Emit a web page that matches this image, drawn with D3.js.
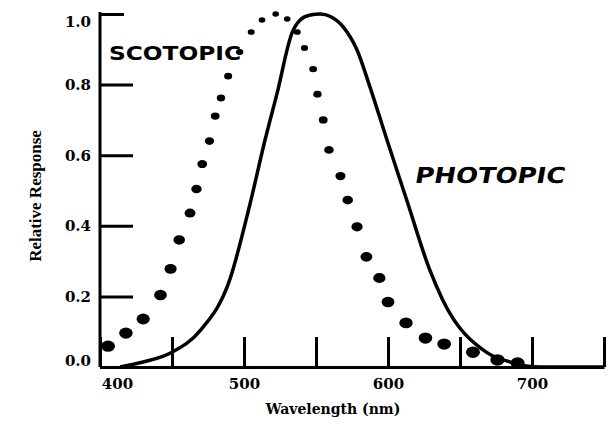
<!DOCTYPE html>
<html>
<head>
<meta charset="utf-8">
<script src="https://cdn.jsdelivr.net/npm/d3@7"></script>
<style>
body { margin: 0; background: #fff; }
.axis path, .axis line { stroke: #000; stroke-width: 3; }
.axis text { font-family: "DejaVu Serif", serif; font-weight: bold; font-size: 15px; fill: #000; }
.title { font-weight: bold; fill: #000; }
.hand { font-family: "DejaVu Sans", sans-serif; font-weight: bold; fill: #000; }
</style>
</head>
<body>
<div id="chart"></div>
<script>
// values
let photopicNm  = [414, 430, 450, 470, 490, 504, 514.6, 523, 533.3, 539, 546, 553, 560, 569, 578.5, 587.5, 599.3, 613, 629, 638, 669, 685, 705.5, 750];
let photopicVal = [0.0, 0.014, 0.042, 0.105, 0.246, 0.459, 0.643, 0.776, 0.946, 0.983, 0.997, 1.0, 0.993, 0.963, 0.898, 0.793, 0.643, 0.473, 0.275, 0.19, 0.04, 0.014, 0.0, 0.0];

let scotopicNm  = [405.6, 418, 430, 442, 449, 455, 462.5, 467, 471, 476, 480, 484, 489, 497, 505, 512.5, 522, 530, 537, 542, 548, 551, 555, 559, 567, 572, 578.5, 585, 594, 600, 612.5, 626, 639, 659, 676, 690];
let scotopicVal = [0.059, 0.096, 0.136, 0.204, 0.278, 0.36, 0.436, 0.504, 0.575, 0.64, 0.711, 0.762, 0.824, 0.892, 0.949, 0.983, 1.0, 0.986, 0.949, 0.904, 0.844, 0.773, 0.70, 0.615, 0.541, 0.473, 0.397, 0.312, 0.252, 0.184, 0.125, 0.082, 0.065, 0.042, 0.02, 0.011];

let yTicks = [0, 0.2, 0.4, 0.6, 0.8, 1.0];
let xTicks = [400, 450, 500, 550, 600, 650, 700, 750];
let xLabelled = [400, 500, 600, 700];

let width = 608;
let height = 422;

let svg = d3.select('#chart')
    .append('svg')
    .attr('width', width)
    .attr('height', height);

let xScale = d3.scaleLinear()
    .domain([400, 750])
    .range([100, 604]);
let yScale = d3.scaleLinear()
    .domain([0, 1])
    .range([367, 14]);

// y axis, ticks pointing into the plot
let yAxis = d3.axisLeft(yScale)
    .tickValues(yTicks)
    .tickSize(-33)
    .tickSizeOuter(0)
    .tickPadding(9)
    .tickFormat(d3.format('.1f'));
let yAxisGroup = svg.append('g')
    .classed('axis', true)
    .attr('transform', `translate(${xScale(400)},0)`)
    .call(yAxis);
yAxisGroup.select('.domain').attr('d', `M0,${yScale(0)}V${yScale(1) - 2}`);
yAxisGroup.selectAll('.tick line').filter(d => d === 1).attr('x2', 24);
yAxisGroup.selectAll('.tick text').filter(d => d === 1).attr('dy', '0.8em');
yAxisGroup.selectAll('.tick text').filter(d => d === 0).attr('dy', '-0.1em');

// x axis, ticks pointing up
let xAxis = d3.axisBottom(xScale)
    .tickValues(xTicks)
    .tickSize(-30)
    .tickSizeOuter(0)
    .tickPadding(11)
    .tickFormat(d => xLabelled.includes(d) ? d : '');
let xAxisGroup = svg.append('g')
    .classed('axis', true)
    .attr('transform', `translate(0,${yScale(0)})`)
    .call(xAxis);
xAxisGroup.selectAll('.tick text').filter(d => d === 400).attr('dx', 17);

svg.append('text')
    .classed('title', true)
    .attr('transform', `translate(37,196) rotate(-90)`)
    .attr('text-anchor', 'middle')
    .attr('dominant-baseline', 'middle')
    .style('font-family', '"Liberation Serif", serif')
    .style('font-size', '17px')
    .text('Relative Response');

svg.append('text')
    .classed('title', true)
    .attr('x', 333)
    .attr('y', 414)
    .attr('text-anchor', 'middle')
    .style('font-family', '"DejaVu Serif", serif')
    .style('font-size', '14px')
    .text('Wavelength (nm)');

// photopic: solid line
let photopic = d3.zip(photopicNm, photopicVal);
let lineGenerator = d3.line()
    .x(d => xScale(d[0]))
    .y(d => yScale(d[1]))
    .curve(d3.curveMonotoneX);
svg.append('path')
    .attr('d', lineGenerator(photopic))
    .attr('fill', 'none')
    .attr('stroke', '#000')
    .attr('stroke-width', 3.5);

// scotopic: blobby dots, bigger near the bottom
let scotopic = d3.zip(scotopicNm, scotopicVal);
let rScale = d3.scaleLinear().domain([0, 1]).range([6.5, 3]);
svg.selectAll('.dot')
    .data(scotopic)
    .enter()
    .append('ellipse')
    .classed('dot', true)
    .attr('cx', d => xScale(d[0]))
    .attr('cy', d => yScale(d[1]))
    .attr('rx', d => rScale(d[1]) * 1.1)
    .attr('ry', d => rScale(d[1]) * 0.9)
    .attr('fill', '#000');

// hand written labels
svg.append('text')
    .classed('hand', true)
    .attr('x', 109)
    .attr('y', 60)
    .attr('textLength', 132)
    .attr('lengthAdjust', 'spacingAndGlyphs')
    .style('font-size', '20px')
    .text('SCOTOPIC');

svg.append('text')
    .classed('hand', true)
    .attr('transform', 'translate(414,183) skewX(-10)')
    .attr('textLength', 150)
    .attr('lengthAdjust', 'spacingAndGlyphs')
    .style('font-size', '22px')
    .text('PHOTOPIC');
</script>
</body>
</html>
